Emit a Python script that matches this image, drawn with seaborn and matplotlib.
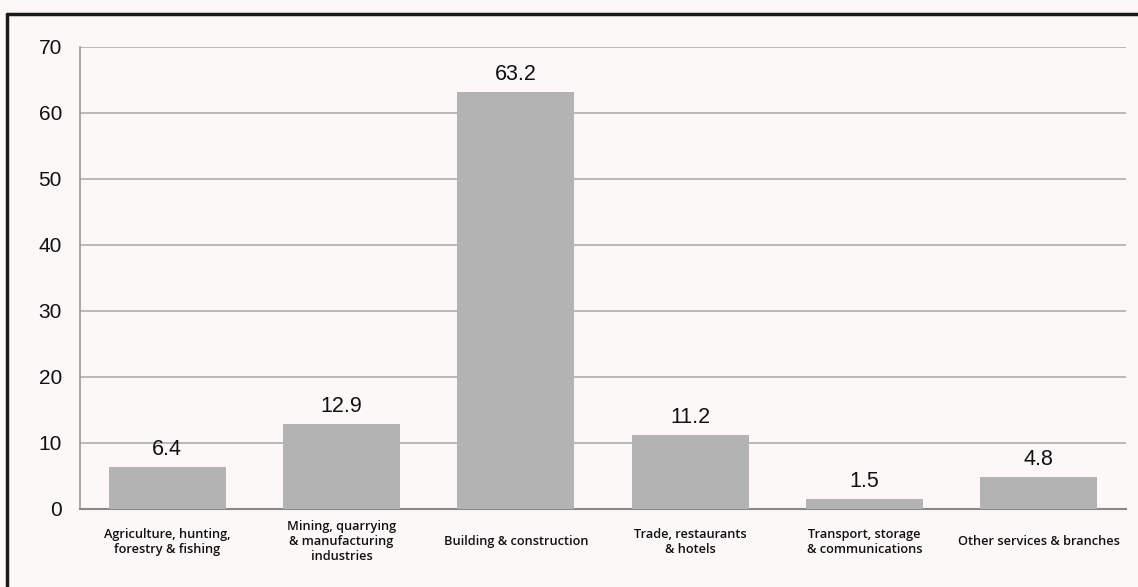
import matplotlib
matplotlib.use("Agg")
import matplotlib.pyplot as plt
import seaborn as sns
import pandas as pd
from matplotlib.lines import Line2D

categories = [
    "Agriculture, hunting,\nforestry & fishing",
    "Mining, quarrying\n& manufacturing\nindustries",
    "Building & construction",
    "Trade, restaurants\n& hotels",
    "Transport, storage\n& communications",
    "Other services & branches",
]
values = [6.4, 12.9, 63.2, 11.2, 1.5, 4.8]
yticks = [0, 10, 20, 30, 40, 50, 60, 70]

sns.set_theme(style="white")
plt.rcParams["font.family"] = ["Liberation Sans", "DejaVu Sans"]

W, H = 1138, 587
fig = plt.figure(figsize=(W / 100, H / 100), dpi=100)
fig.patch.set_facecolor("#fcf8f8")
ax = fig.add_axes([80 / W, 1 - 509 / H, (1126 - 80) / W, (509 - 47) / H])
ax.set_facecolor("none")

df = pd.DataFrame({"cat": categories, "val": values})
sns.barplot(data=df, x="cat", y="val", color="#b3b3b3", saturation=1,
            width=0.67, linewidth=0, ax=ax, zorder=3)

ax.set_ylim(0, 70)
ax.set_xlim(-0.5, len(categories) - 0.5)
ax.set_yticks(yticks)
ax.set_yticklabels([str(t) for t in yticks], fontsize=15, color="#111111")
ax.yaxis.grid(True, color="#b4b4b4", linewidth=1.3, zorder=0)
ax.set_axisbelow(True)
ax.tick_params(axis="y", length=0, pad=13)
ax.tick_params(axis="x", length=0, pad=23.5)
ax.set_xticks(range(len(categories)))
ax.set_xticklabels(categories, fontsize=9.2, fontweight="semibold",
                   family=["Open Sans", "DejaVu Sans"], va="center",
                   multialignment="center", color="#111111", linespacing=1.2)
ax.set_xlabel("")
ax.set_ylabel("")

for s in ["top", "right"]:
    ax.spines[s].set_visible(False)
ax.spines["left"].set_color("#9a9a9a")
ax.spines["left"].set_linewidth(1.2)
ax.spines["bottom"].set_color("#888888")
ax.spines["bottom"].set_linewidth(1.5)

for cont in ax.containers:
    ax.bar_label(cont, labels=[f"{v:.1f}" for v in values],
                 padding=5, fontsize=15.5, color="#111111")

# frame border (decoration)
fig.add_artist(Line2D([7 / W, 7 / W], [0, 1 - 14 / H], transform=fig.transFigure,
                      color="#1a1a1a", linewidth=2.5))
fig.add_artist(Line2D([7 / W, 1], [1 - 14 / H, 1 - 14 / H], transform=fig.transFigure,
                      color="#1a1a1a", linewidth=2.5))

fig.savefig("out.png", dpi=100, facecolor=fig.get_facecolor())
